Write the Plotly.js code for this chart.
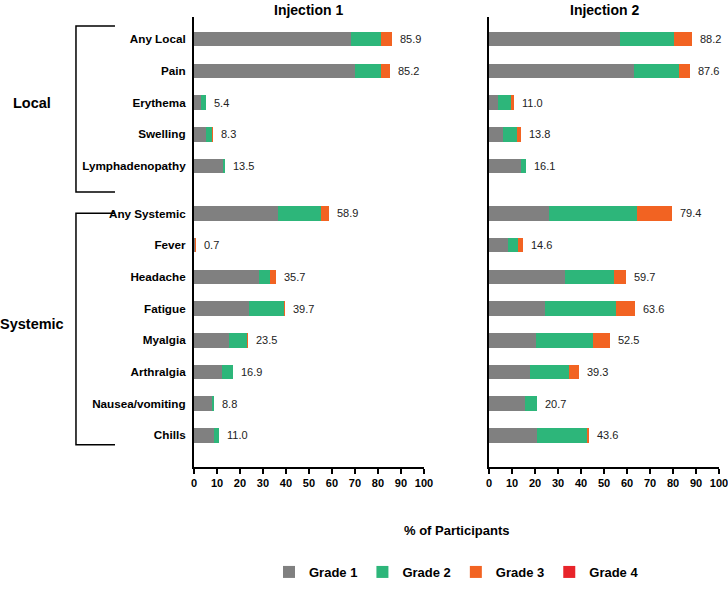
<!DOCTYPE html>
<html>
<head>
<meta charset="utf-8">
<script src="https://cdn.plot.ly/plotly-3.0.1.min.js"></script>
<style>html,body{margin:0;padding:0;background:#fff;}#chart{width:728px;height:596px;}</style>
</head>
<body>
<div id="chart"></div>
<script>
const categories = ["Any Local","Pain","Erythema","Swelling","Lymphadenopathy",
  "Any Systemic","Fever","Headache","Fatigue","Myalgia","Arthralgia","Nausea/vomiting","Chills"];
const groupLocal = "Local";
const groupSystemic = "Systemic";
const gradeNames = ["Grade 1","Grade 2","Grade 3","Grade 4"];
const xTicks = [0,10,20,30,40,50,60,70,80,90,100];

// Injection 1
const inj1_g1 = [68.3,70.1,3.0,5.2,12.4, 36.5,0.4,28.1,24.1,15.3,12.1,7.8,8.7];
const inj1_g2 = [13.2,11.3,2.2,2.6,1.1, 18.6,0.0,5.1,14.9,7.8,4.8,1.0,2.3];
const inj1_g3 = [4.4,3.8,0.2,0.5,0.0, 3.8,0.3,2.5,0.7,0.4,0.0,0.0,0.0];
const inj1_g4 = [0,0,0,0,0, 0,0,0,0,0,0,0,0];
const inj1_total = [85.9,85.2,5.4,8.3,13.5, 58.9,0.7,35.7,39.7,23.5,16.9,8.8,11.0];

// Injection 2
const inj2_g1 = [56.9,63.2,3.9,5.9,14.0, 26.0,8.2,33.2,24.2,20.3,17.9,15.7,20.9];
const inj2_g2 = [23.5,19.2,5.6,6.2,2.1, 38.5,4.6,21.3,31.1,24.7,17.0,5.0,21.5];
const inj2_g3 = [7.8,5.2,1.5,1.7,0.0, 14.9,1.8,5.2,8.3,7.5,4.4,0.0,1.2];
const inj2_g4 = [0,0,0,0,0, 0,0,0,0,0,0,0,0];
const inj2_total = [88.2,87.6,11.0,13.8,16.1, 79.4,14.6,59.7,63.6,52.5,39.3,20.7,43.6];

const colors = ["#808080","#2db67a","#f26322","#e8242a"];
const FONT = "Arial, 'Liberation Sans', sans-serif";

// row positions: a half-row gap between the local and systemic groups
const ypos = categories.map((c,i) => i + (i >= 5 ? 0.5 : 0));

const traces = [];
const totalAnns = [];
function addPanel(grades, totals, xa, ya, showLegend){
  grades.forEach((vals, gi) => {
    traces.push({
      type:'bar', orientation:'h', x: vals, y: ypos,
      xaxis: xa, yaxis: ya, name: gradeNames[gi],
      marker:{color: colors[gi], line:{width:0}},
      width: 0.46, showlegend: showLegend, legendgroup: gradeNames[gi],
      hoverinfo:'skip'
    });
  });
  totals.forEach((v, i) => {
    totalAnns.push({
      text: v.toFixed(1), xref: xa, yref: ya, x: v, y: ypos[i],
      xanchor:'left', yanchor:'middle', xshift: 6, showarrow:false,
      font:{family: FONT, size: 11, color:'#222'}
    });
  });
}
addPanel([inj1_g1,inj1_g2,inj1_g3,inj1_g4], inj1_total, 'x', 'y', true);
addPanel([inj2_g1,inj2_g2,inj2_g3,inj2_g4], inj2_total, 'x2', 'y2', false);

const axX = {
  range:[0,100], tickvals: xTicks, ticktext: xTicks.map(String),
  showgrid:false, zeroline:false, showline:true, linecolor:'#000', linewidth:2,
  ticks:'outside', ticklen:5, tickwidth:2, tickcolor:'#000', ticklabeloverflow:'allow',
  tickfont:{family:FONT, size:11, color:'#000', weight:'bold'}, fixedrange:true
};
const yRange = [13.5, -0.7];
const layout = {
  width:728, height:596,
  margin:{l:194, r:9, t:17, b:116},
  paper_bgcolor:'#fff', plot_bgcolor:'#fff',
  barmode:'stack',
  font:{family:FONT, color:'#000'},
  xaxis: Object.assign({domain:[0,0.438], anchor:'y'}, axX),
  xaxis2: Object.assign({domain:[0.562,1], anchor:'y2'}, axX),
  yaxis: {domain:[0,1], anchor:'x', range:yRange, tickvals: ypos, ticktext: categories,
    showgrid:false, zeroline:false, showline:true, linecolor:'#000', linewidth:2,
    ticks:'', ticklabelstandoff:4,
    tickfont:{family:FONT, size:11.7, color:'#000', weight:'bold'}},
  yaxis2: {domain:[0,1], anchor:'x2', range:yRange, showticklabels:false,
    showgrid:false, zeroline:false, showline:true, linecolor:'#000', linewidth:2, ticks:''},
  showlegend:true,
  legend:{orientation:'h', x:0.5, xanchor:'center', y:-0.2333, yanchor:'middle',
    font:{family:FONT, size:13, color:'#000', weight:'bold'}, traceorder:'normal'},
  annotations: totalAnns.concat([
    {text:'Injection 1', xref:'x domain', yref:'paper', x:0.5, y:1.0367, yanchor:'top',
     showarrow:false, font:{family:FONT, size:14, color:'#000', weight:'bold'}},
    {text:'Injection 2', xref:'x2 domain', yref:'paper', x:0.5, y:1.0367, yanchor:'top',
     showarrow:false, font:{family:FONT, size:14, color:'#000', weight:'bold'}},
    {text:'% of Participants', xref:'paper', yref:'paper', x:0.5, y:-0.1404, yanchor:'middle',
     showarrow:false, font:{family:FONT, size:13, color:'#000', weight:'bold'}},
    {text:groupLocal, xref:'paper', yref:'paper', x:-0.3086, y:0.8084, yanchor:'middle', xanchor:'center',
     showarrow:false, font:{family:FONT, size:14.5, color:'#000', weight:'bold'}},
    {text:groupSystemic, xref:'paper', yref:'paper', x:-0.3086, y:0.3175, yanchor:'middle', xanchor:'center',
     showarrow:false, font:{family:FONT, size:14.5, color:'#000', weight:'bold'}}
  ]),
  shapes:[
    {type:'path', xref:'paper', yref:'paper',
     path:'M -0.1505 0.9798 L -0.2248 0.9798 L -0.2248 0.6112 L -0.1505 0.6112',
     line:{color:'#000', width:1.5}},
    {type:'path', xref:'paper', yref:'paper',
     path:'M -0.1505 0.5640 L -0.2248 0.5640 L -0.2248 0.0497 L -0.1505 0.0497',
     line:{color:'#000', width:1.5}}
  ]
};
Plotly.newPlot('chart', traces, layout, {displayModeBar:false, staticPlot:true});
</script>
</body>
</html>
